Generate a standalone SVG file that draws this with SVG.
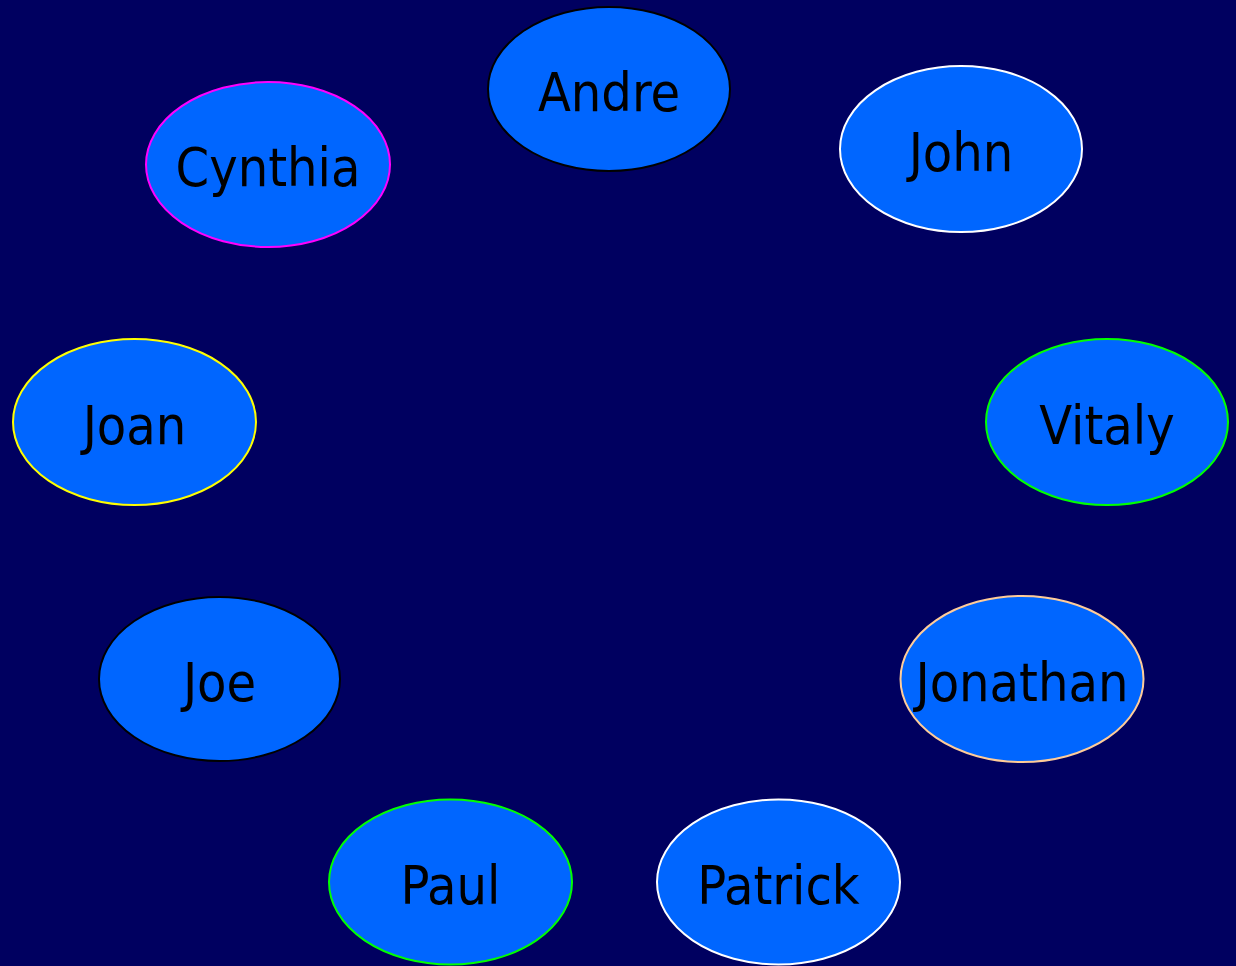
<svg xmlns="http://www.w3.org/2000/svg" width="1236" height="966" viewBox="0 0 1236 966">
<style>
.n ellipse{fill:#0066FF;stroke-width:2}
.n text{font-family:"DejaVu Sans Condensed","DejaVu Sans",sans-serif;font-stretch:condensed;font-size:53.5px;fill:#000;text-anchor:middle}
</style>
<rect width="1236" height="966" fill="#000060"/>
<g id="connectors"></g>
<g id="andre" class="n"><ellipse cx="609" cy="89" rx="121" ry="82" stroke="#000"/><text x="609" y="111">Andre</text></g>
<g id="john" class="n"><ellipse cx="961" cy="149" rx="121" ry="83" stroke="#fff"/><text x="961" y="171">John</text></g>
<g id="cynthia" class="n"><ellipse cx="268" cy="164.5" rx="122" ry="82.5" stroke="#FF00FF"/><text x="268" y="186">Cynthia</text></g>
<g id="joan" class="n"><ellipse cx="134.5" cy="422" rx="121.5" ry="83" stroke="#FFFF00"/><text x="134.5" y="444">Joan</text></g>
<g id="vitaly" class="n"><ellipse cx="1107" cy="422" rx="121" ry="83" stroke="#00FF00"/><text x="1107" y="444">Vitaly</text></g>
<g id="joe" class="n"><ellipse cx="219.5" cy="679" rx="120.5" ry="82" stroke="#000"/><text x="219.5" y="701">Joe</text></g>
<g id="jonathan" class="n"><ellipse cx="1022" cy="679" rx="121.5" ry="83" stroke="#FFCC99"/><text x="1022" y="701">Jonathan</text></g>
<g id="paul" class="n"><ellipse cx="450.5" cy="882" rx="121.5" ry="82.5" stroke="#00FF00"/><text x="450.5" y="904">Paul</text></g>
<g id="patrick" class="n"><ellipse cx="778.5" cy="882" rx="121.5" ry="82.5" stroke="#fff"/><text x="778.5" y="904">Patrick</text></g>
</svg>
